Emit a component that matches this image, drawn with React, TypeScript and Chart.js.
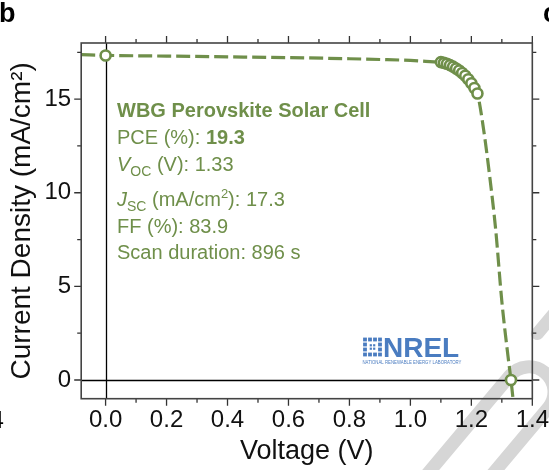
import React, { useEffect, useRef } from "react";
import { Chart, registerables } from "chart.js";

Chart.register(...registerables);

// ---- data ----
const markerVoltage = [0.0, 1.1, 1.11, 1.12, 1.13, 1.14, 1.15, 1.16, 1.17, 1.18, 1.19, 1.2, 1.21, 1.22, 1.33];
const markerCurrent = [17.33, 16.98, 16.94, 16.89, 16.82, 16.74, 16.64, 16.53, 16.4, 16.25, 16.06, 15.85, 15.6, 15.3, 0.0];

const fitVoltage = [-0.08, 0.0, 0.2, 0.4, 0.6, 0.8, 0.9, 1.0, 1.05, 1.1, 1.12, 1.14, 1.16, 1.18, 1.2, 1.22, 1.24, 1.26, 1.28, 1.3, 1.32, 1.33, 1.336];
const fitCurrent = [17.38, 17.34, 17.3, 17.26, 17.22, 17.16, 17.12, 17.07, 17.02, 16.95, 16.86, 16.72, 16.52, 16.22, 15.82, 15.3, 13.4, 10.9, 8.0, 4.2, 1.3, 0.0, -0.9];

const xMajorTicks = [0, 0.2, 0.4, 0.6, 0.8, 1.0, 1.2, 1.4];
const xMinorTicks = [0.1, 0.3, 0.5, 0.7, 0.9, 1.1, 1.3];
const yMajorTicks = [0, 5, 10, 15];
const yMinorTicks = [2.5, 7.5, 12.5, 17.5];

const annotationTitle = "WBG Perovskite Solar Cell";
const pceValue = "19.3";
const vocValue = "1.33";
const jscValue = "17.3";
const ffValue = "83.9";
const scanDuration = "896";

const GREEN = "#6f8f4a";
const FONT = "'Liberation Sans', Arial, sans-serif";

type Run = { t: string; s?: "b" | "i" | "sub" | "sup" };

const annotationLines: { y: number; runs: Run[] }[] = [
  { y: 117, runs: [{ t: annotationTitle, s: "b" }] },
  { y: 144, runs: [{ t: "PCE (%): " }, { t: pceValue, s: "b" }] },
  { y: 171, runs: [{ t: "V", s: "i" }, { t: "OC", s: "sub" }, { t: " (V): " + vocValue }] },
  { y: 206, runs: [{ t: "J", s: "i" }, { t: "SC", s: "sub" }, { t: " (mA/cm" }, { t: "2", s: "sup" }, { t: "): " + jscValue }] },
  { y: 233, runs: [{ t: "FF (%): " + ffValue }] },
  { y: 259, runs: [{ t: "Scan duration: " + scanDuration + " s" }] },
];

const decorPlugin = {
  id: "decor",
  beforeDraw(chart: any) {
    const ctx = chart.ctx;
    ctx.save();
    ctx.fillStyle = "#ffffff";
    ctx.fillRect(0, 0, chart.width, chart.height);
    // faint watermark strokes (partial letters, bottom right)
    ctx.transform(0.643, -0.766, 0.766, 0.643, 0, 0);
    ctx.strokeStyle = "#d6d6d6";
    ctx.lineWidth = 13;
    ctx.lineCap = "round";
    ctx.lineJoin = "round";
    ctx.beginPath();
    ctx.moveTo(-260, 632);
    ctx.lineTo(40, 632);
    ctx.arc(40, 657, 25, -Math.PI / 2, Math.PI / 2, false);
    ctx.lineTo(-260, 682);
    ctx.stroke();
    ctx.beginPath();
    ctx.moveTo(90, 626);
    ctx.lineTo(320, 626);
    ctx.stroke();
    ctx.restore();
  },
  beforeDatasetsDraw(chart: any) {
    const { ctx, chartArea: a, scales } = chart;
    const xs = scales.x, ys = scales.y;
    ctx.save();
    ctx.strokeStyle = "#000";
    ctx.lineWidth = 1.3;
    const x0 = Math.round(xs.getPixelForValue(0)) + 0.5;
    const y0 = Math.round(ys.getPixelForValue(0)) + 0.5;
    ctx.beginPath();
    ctx.moveTo(x0, a.top);
    ctx.lineTo(x0, a.bottom);
    ctx.moveTo(a.left, y0);
    ctx.lineTo(a.right, y0);
    ctx.stroke();

    // annotation text
    ctx.fillStyle = GREEN;
    ctx.textBaseline = "alphabetic";
    ctx.textAlign = "left";
    const left = 117;
    for (const line of annotationLines) {
      let x = left;
      for (const r of line.runs) {
        let font = `20px ${FONT}`;
        let dy = 0;
        if (r.s === "b") font = `bold 20px ${FONT}`;
        if (r.s === "i") font = `italic 20px ${FONT}`;
        if (r.s === "sub") { font = `14px ${FONT}`; dy = 5; }
        if (r.s === "sup") { font = `13px ${FONT}`; dy = -8; }
        ctx.font = font;
        ctx.fillText(r.t, x, line.y + dy);
        x += ctx.measureText(r.t).width;
      }
    }

    // NREL logo
    const blue = "#4a7cc0";
    ctx.fillStyle = blue;
    const ix = 362.5, iy = 337, cell = 5;
    const pattern = ["1111", "1001", "1001", "1111"];
    for (let r = 0; r < 4; r++) {
      for (let c = 0; c < 4; c++) {
        if (pattern[r][c] === "1") ctx.fillRect(ix + c * cell + 0.6, iy + r * cell + 0.6, cell - 1.2, cell - 1.2);
      }
    }
    ctx.fillRect(ix + 7.2, iy + 7.2, 2.2, 2.2);
    ctx.fillRect(ix + 10.6, iy + 7.2, 2.2, 2.2);
    ctx.fillRect(ix + 7.2, iy + 10.6, 2.2, 2.2);
    ctx.fillRect(ix + 10.6, iy + 10.6, 2.2, 2.2);
    ctx.font = `bold 28px ${FONT}`;
    ctx.textBaseline = "alphabetic";
    ctx.fillText("NREL", 383, 357);
    ctx.font = `4.5px ${FONT}`;
    ctx.fillText("NATIONAL RENEWABLE ENERGY LABORATORY", 362.5, 363.5, 99);
    ctx.restore();
  },
  afterDraw(chart: any) {
    const { ctx, chartArea: a, scales } = chart;
    const xs = scales.x, ys = scales.y;
    ctx.save();
    ctx.strokeStyle = "#333";
    ctx.lineWidth = 1.3;
    ctx.beginPath();
    const major = 7, minor = 4;
    for (const v of xMajorTicks) {
      const p = xs.getPixelForValue(v);
      ctx.moveTo(p, a.bottom); ctx.lineTo(p, a.bottom + major);
      ctx.moveTo(p, a.top); ctx.lineTo(p, a.top - major);
    }
    for (const v of xMinorTicks) {
      const p = xs.getPixelForValue(v);
      ctx.moveTo(p, a.bottom); ctx.lineTo(p, a.bottom + minor);
      ctx.moveTo(p, a.top); ctx.lineTo(p, a.top - minor);
    }
    for (const v of yMajorTicks) {
      const p = ys.getPixelForValue(v);
      ctx.moveTo(a.left, p); ctx.lineTo(a.left - major, p);
      ctx.moveTo(a.right, p); ctx.lineTo(a.right + major, p);
    }
    for (const v of yMinorTicks) {
      const p = ys.getPixelForValue(v);
      ctx.moveTo(a.left, p); ctx.lineTo(a.left - minor, p);
      ctx.moveTo(a.right, p); ctx.lineTo(a.right + minor, p);
    }
    ctx.stroke();
    ctx.strokeStyle = "#444";
    ctx.lineWidth = 1.6;
    ctx.strokeRect(a.left, a.top, a.right - a.left, a.bottom - a.top);

    // panel letters
    ctx.fillStyle = "#000";
    ctx.font = `bold 27px ${FONT}`;
    ctx.textBaseline = "alphabetic";
    ctx.fillText("b", -1, 22);
    ctx.fillText("c", 543, 22);
    ctx.font = `24px ${FONT}`;
    ctx.fillText("4", -9.5, 428);
    ctx.restore();
  },
};

export default function App() {
  const ref = useRef<HTMLCanvasElement | null>(null);
  useEffect(() => {
    document.body.style.margin = "0";
    const canvas = ref.current!;
    const chart = new Chart(canvas, {
      type: "scatter",
      data: {
        datasets: [
          {
            label: "points",
            data: markerVoltage.map((v, i) => ({ x: v, y: markerCurrent[i] })),
            showLine: false,
            pointRadius: 5,
            pointBorderWidth: 2.6,
            pointBackgroundColor: "#ffffff",
            pointBorderColor: GREEN,
            order: 0,
          },
          {
            label: "fit",
            data: fitVoltage.map((v, i) => ({ x: v, y: fitCurrent[i] })),
            showLine: true,
            pointRadius: 0,
            borderColor: GREEN,
            borderWidth: 3.2,
            borderDash: [14, 5],
            cubicInterpolationMode: "monotone",
            order: 1,
          },
        ],
      },
      options: {
        animation: false,
        responsive: false,
        devicePixelRatio: 1,
        layout: { padding: { left: 0, top: 43, right: 16, bottom: 0 } },
        plugins: { legend: { display: false }, tooltip: { enabled: false } },
        scales: {
          x: {
            type: "linear",
            min: -0.08,
            max: 1.4,
            afterFit: (s: any) => { s.height = 71.3; },
            ticks: {
              stepSize: 0.2,
              includeBounds: false,
              padding: 0,
              color: "#111",
              font: { family: FONT, size: 24 },
              callback: (v: any) => Number(v).toFixed(1),
            },
            grid: { display: true, drawOnChartArea: false, drawTicks: true, tickLength: 7, tickColor: "rgba(0,0,0,0)" },
            border: { display: false },
            title: { display: true, text: "Voltage (V)", color: "#111", font: { family: FONT, size: 27 }, padding: { top: 0, bottom: 2 } },
          },
          y: {
            type: "linear",
            min: -1,
            max: 18,
            afterFit: (s: any) => { s.width = 81.2; },
            ticks: {
              stepSize: 5,
              includeBounds: false,
              padding: 3,
              color: "#111",
              font: { family: FONT, size: 24 },
            },
            grid: { display: true, drawOnChartArea: false, drawTicks: true, tickLength: 7, tickColor: "rgba(0,0,0,0)" },
            border: { display: false },
            title: { display: true, text: "Current Density (mA/cm²)", color: "#111", font: { family: FONT, size: 28 }, padding: { top: 5, bottom: 0 } },
          },
        },
      },
      plugins: [decorPlugin],
    });
    return () => chart.destroy();
  }, []);
  return (
    <div style={{ width: 549, height: 470 }}>
      <canvas ref={ref} width={549} height={470} style={{ display: "block" }} />
    </div>
  );
}
